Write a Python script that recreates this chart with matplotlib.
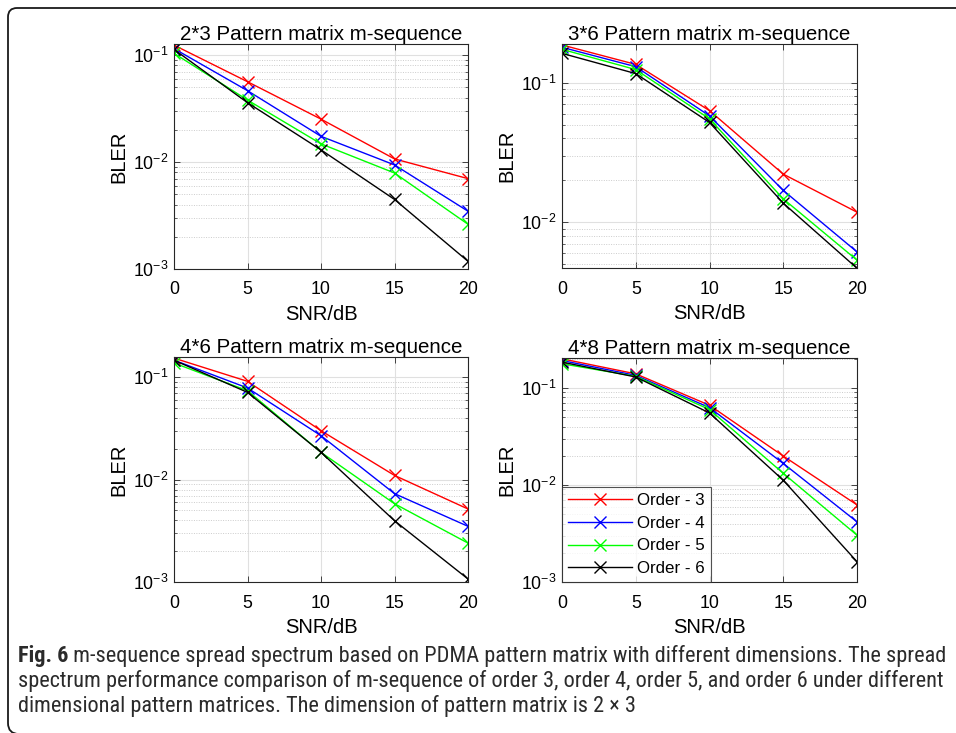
import matplotlib
matplotlib.use("Agg")
import matplotlib.pyplot as plt
from matplotlib import font_manager
from matplotlib.path import Path
from matplotlib.patches import PathPatch
from matplotlib.ticker import LogLocator, NullFormatter, FixedLocator

plt.rcParams['font.family'] = ['Liberation Sans', 'DejaVu Sans']
plt.rcParams['mathtext.fontset'] = 'custom'
plt.rcParams['mathtext.rm'] = 'Liberation Sans'
plt.rcParams['mathtext.it'] = 'Liberation Sans:italic'
plt.rcParams['mathtext.bf'] = 'Liberation Sans:bold'

# ---- data -------------------------------------------------------------
snr_db = [0, 5, 10, 15, 20]
series_labels = ["Order - 3", "Order - 4", "Order - 5", "Order - 6"]
series_colors = ["#ff0000", "#0000ff", "#00ff00", "#000000"]

titles = ["2*3 Pattern matrix m-sequence", "3*6 Pattern matrix m-sequence",
          "4*6 Pattern matrix m-sequence", "4*8 Pattern matrix m-sequence"]

bler_2x3 = [
    [0.124, 0.0564, 0.0252, 0.0107, 0.0070],
    [0.115, 0.0465, 0.0174, 0.0094, 0.00347],
    [0.104, 0.0380, 0.0148, 0.0079, 0.00262],
    [0.113, 0.0359, 0.0130, 0.00447, 0.00118],
]
bler_3x6 = [
    [0.186, 0.135, 0.063, 0.0221, 0.0118],
    [0.179, 0.130, 0.0578, 0.0169, 0.00613],
    [0.173, 0.124, 0.0550, 0.0147, 0.00535],
    [0.162, 0.116, 0.0518, 0.0137, 0.00468],
]
bler_4x6 = [
    [0.154, 0.0914, 0.0301, 0.0110, 0.00517],
    [0.147, 0.0787, 0.0269, 0.0073, 0.0035],
    [0.138, 0.0740, 0.0185, 0.00582, 0.0024],
    [0.147, 0.0713, 0.0185, 0.00397, 0.00107],
]
bler_4x8 = [
    [0.200, 0.140, 0.0664, 0.0199, 0.00624],
    [0.192, 0.135, 0.0628, 0.0167, 0.00417],
    [0.178, 0.132, 0.0600, 0.0132, 0.00304],
    [0.185, 0.130, 0.0553, 0.0112, 0.00162],
]
panels = [bler_2x3, bler_3x6, bler_4x6, bler_4x8]
y_limits = [(1e-3, 0.127), (0.0047, 0.189), (1e-3, 0.158), (1e-3, 0.204)]

caption_lead = "Fig. 6"
caption_lines = [
    " m-sequence spread spectrum based on PDMA pattern matrix with different dimensions. The spread",
    "spectrum performance comparison of m-sequence of order 3, order 4, order 5, and order 6 under different",
    "dimensional pattern matrices. The dimension of pattern matrix is 2 \u00d7 3",
]

# ---- figure -----------------------------------------------------------
W, H = 956, 733
fig = plt.figure(figsize=(W / 100, H / 100), dpi=100)

# axes boxes in pixels: left, right, top, bottom
boxes = [(174, 468, 44, 269), (562, 857, 44, 268),
         (174, 468, 357, 582), (562, 857, 358, 582)]

axis_gray = "#262626"
for i, (l, r, t, b) in enumerate(boxes):
    ax = fig.add_axes([l / W, 1 - b / H, (r - l) / W, (b - t) / H])
    for vals, col, lab in zip(panels[i], series_colors, series_labels):
        ax.plot(snr_db, vals, color=col, marker='x', markersize=8,
                markeredgewidth=1.0, linewidth=1.0, label=lab)
    ax.set_yscale('log')
    ax.set_xlim(0, 20)
    ax.set_ylim(*y_limits[i])
    ax.xaxis.set_major_locator(FixedLocator(snr_db))
    ax.yaxis.set_major_locator(LogLocator(base=10, numticks=10))
    ax.yaxis.set_minor_locator(LogLocator(base=10, subs=range(2, 10), numticks=20))
    ax.yaxis.set_minor_formatter(NullFormatter())
    ax.tick_params(which='both', direction='in', top=True, right=True,
                   colors=axis_gray, labelcolor='black', labelsize=12.8)
    ax.tick_params(axis='x', pad=9)
    ax.tick_params(axis='y', pad=4)
    ax.tick_params(which='major', length=4, width=0.6)
    ax.tick_params(which='minor', length=2, width=0.5)
    ax.grid(True, which='major', color='#e0e0e0', linewidth=0.8, linestyle='-')
    ax.grid(True, which='minor', axis='y', color='#cccccc', linewidth=0.7, linestyle=(0, (1, 1.5)))
    ax.set_axisbelow(True)
    for s in ax.spines.values():
        s.set_color(axis_gray)
        s.set_linewidth(0.8)
    ax.set_title(titles[i], fontsize=14.8, pad=3)
    ax.set_xlabel("SNR/dB", fontsize=14.5, labelpad=5)
    ax.set_ylabel("BLER", fontsize=14.5, labelpad=3)
    if i == 3:
        leg = ax.legend(loc='lower left', fontsize=12.2, frameon=True, fancybox=False,
                        edgecolor=axis_gray, borderaxespad=0, handlelength=3.8,
                        handletextpad=0.3, labelspacing=0.45, borderpad=0.35)
        leg.get_frame().set_linewidth(0.8)

# ---- caption ----------------------------------------------------------
def caption_font(**kw):
    for fam, stretch in [('Liberation Sans Narrow', 'normal'),
                         ('Roboto Condensed', 'normal'),
                         ('DejaVu Sans', 'condensed')]:
        fp = font_manager.FontProperties(family=fam, stretch=stretch, **kw)
        try:
            path = font_manager.findfont(fp, fallback_to_default=False)
        except Exception:
            continue
        if stretch == 'condensed' and 'ondensed' not in path:
            continue
        return font_manager.FontProperties(fname=path)
    return font_manager.FontProperties(family='DejaVu Sans', **kw)

cap_regular = caption_font()
cap_bold = caption_font(weight='bold')
cap_color = "#2b2b2b"
renderer = fig.canvas.get_renderer()

# size the caption so the second line spans the frame width
probe = fig.text(0, 0, caption_lines[1], fontproperties=cap_regular)
probe.set_fontsize(10)
probe_w = probe.get_window_extent(renderer).width
probe.remove()
cap_size = 10 * (937 - 18) / probe_w

x0 = 18
line_y = [656, 681, 706]
lead = fig.text(x0 / W, 1 - line_y[0] / H, caption_lead, fontproperties=cap_bold,
                color=cap_color, va='center')
lead.set_fontsize(cap_size)
lead_w = lead.get_window_extent(renderer).width
t0 = fig.text((x0 + lead_w) / W, 1 - line_y[0] / H, caption_lines[0],
              fontproperties=cap_regular, color=cap_color, va='center')
t0.set_fontsize(cap_size)
for txt, yy in zip(caption_lines[1:], line_y[1:]):
    t = fig.text(x0 / W, 1 - yy / H, txt, fontproperties=cap_regular,
                 color=cap_color, va='center')
    t.set_fontsize(cap_size)

# ---- rounded frame (open on the right) --------------------------------
def to_fig(px, py):
    return px / W, 1 - py / H

rad_top, rad_bot = 9, 11
left, top, bottom = 8, 8, 734
verts = [to_fig(W + 5, top), to_fig(left + rad_top, top), to_fig(left, top),
         to_fig(left, top + rad_top), to_fig(left, bottom - rad_bot), to_fig(left, bottom),
         to_fig(left + rad_bot, bottom), to_fig(W + 5, bottom)]
codes = [Path.MOVETO, Path.LINETO, Path.CURVE3, Path.CURVE3, Path.LINETO,
         Path.CURVE3, Path.CURVE3, Path.LINETO]
frame = PathPatch(Path(verts, codes), transform=fig.transFigure, fill=False,
                  edgecolor='#1a1a1a', linewidth=1.3)
fig.patches.append(frame)

fig.savefig("out.png", dpi=100)
